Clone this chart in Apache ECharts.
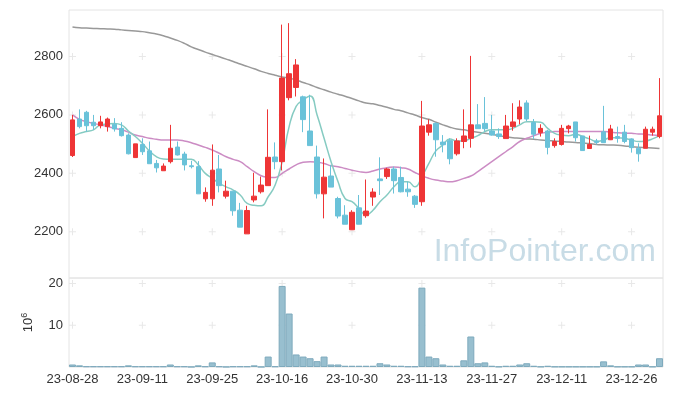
<!DOCTYPE html>
<html><head><meta charset="utf-8">
<script src="https://cdn.jsdelivr.net/npm/echarts@6/dist/echarts.min.js"></script>
<style>html,body{margin:0;padding:0;background:#fff}#c{width:673px;height:396px}</style>
</head><body><div id="c"></div>
<script>
const dates = ['23-08-28','23-08-29','23-08-30','23-08-31','23-09-01','23-09-04','23-09-05','23-09-06','23-09-07','23-09-08',
'23-09-11','23-09-12','23-09-13','23-09-14','23-09-15','23-09-18','23-09-19','23-09-20','23-09-21','23-09-22',
'23-09-25','23-09-26','23-09-27','23-10-04','23-10-05','23-10-06','23-10-10','23-10-11','23-10-12','23-10-13',
'23-10-16','23-10-17','23-10-18','23-10-19','23-10-20','23-10-23','23-10-24','23-10-25','23-10-26','23-10-27',
'23-10-30','23-10-31','23-11-01','23-11-02','23-11-03','23-11-06','23-11-07','23-11-08','23-11-09','23-11-10',
'23-11-13','23-11-14','23-11-15','23-11-16','23-11-17','23-11-20','23-11-21','23-11-22','23-11-23','23-11-24',
'23-11-27','23-11-28','23-11-29','23-11-30','23-12-01','23-12-04','23-12-05','23-12-06','23-12-07','23-12-08',
'23-12-11','23-12-12','23-12-13','23-12-14','23-12-15','23-12-18','23-12-19','23-12-20','23-12-21','23-12-22',
'23-12-26','23-12-27','23-12-28','24-01-02','24-01-03'];
const opens = [2461,2586,2609,2575,2563,2560,2568,2554,2531,2454,2499,2477,2434,2409,2440,2490,2466,2426,2423,2313,
2313,2415,2322,2339,2274,2193,2309,2337,2358,2456,2440,2659,2694,2662,2545,2456,2330,2391,2314,2257,
2207,2282,2255,2319,2381,2389,2415,2386,2346,2322,2303,2541,2571,2507,2512,2467,2509,2520,2566,2571,
2545,2535,2519,2560,2586,2641,2574,2539,2545,2495,2499,2553,2576,2528,2485,2511,2542,2515,2526,2541,
2518,2486,2486,2541,2526];
const closes = [2583,2560,2563,2563,2576,2586,2552,2529,2467,2501,2474,2433,2419,2425,2486,2463,2429,2423,2330,2335,
2411,2358,2339,2272,2216,2273,2322,2360,2455,2440,2726,2741,2771,2584,2495,2330,2387,2353,2254,2226,
2267,2226,2271,2336,2375,2415,2375,2337,2337,2294,2562,2566,2515,2498,2450,2511,2528,2566,2553,2553,
2531,2526,2562,2576,2627,2586,2534,2554,2489,2509,2554,2562,2522,2478,2499,2506,2505,2552,2520,2509,
2488,2467,2551,2551,2597];
const lows = [2456,2554,2543,2549,2554,2543,2543,2526,2465,2454,2463,2433,2403,2409,2434,2461,2410,2417,2330,2303,
2289,2335,2314,2255,2216,2193,2301,2331,2358,2414,2410,2650,2663,2541,2495,2314,2246,2353,2246,2226,
2207,2226,2248,2289,2326,2381,2331,2335,2320,2282,2289,2529,2457,2472,2431,2461,2486,2488,2553,2543,
2529,2518,2519,2546,2568,2579,2518,2526,2465,2488,2495,2537,2509,2478,2485,2499,2505,2514,2505,2503,
2471,2440,2486,2529,2520];
const highs = [2600,2619,2614,2600,2597,2591,2589,2575,2537,2501,2520,2509,2446,2434,2566,2509,2474,2443,2442,2352,
2499,2463,2375,2339,2299,2289,2402,2389,2619,2506,2909,2914,2791,2666,2669,2495,2451,2429,2320,2291,
2274,2326,2379,2349,2455,2419,2423,2423,2371,2326,2648,2585,2575,2531,2520,2520,2619,2802,2637,2661,
2600,2554,2600,2640,2650,2650,2586,2568,2549,2520,2566,2566,2576,2528,2529,2518,2631,2566,2560,2566,
2520,2503,2560,2560,2726];
const ma5 = [2526,2537,2543,2549,2566,2569,2571,2566,2545,2526,2503,2477,2457,2449,2448,2448,2448,2448,2429,2400,
2383,2366,2354,2343,2326,2297,2291,2289,2320,2360,2440,2560,2629,2651,2665,2600,2520,2440,2371,2314,
2303,2280,2257,2274,2303,2326,2354,2371,2371,2354,2389,2434,2477,2497,2518,2511,2511,2520,2529,2543,
2549,2549,2549,2554,2566,2577,2577,2575,2554,2537,2531,2529,2534,2526,2518,2509,2514,2522,2522,2520,
2514,2509,2511,2518,2529];
const ma20 = [2600,2585,2577,2571,2566,2560,2554,2549,2541,2531,2526,2520,2517,2514,2514,2514,2511,2505,2497,2489,
2480,2469,2457,2448,2440,2423,2406,2392,2387,2386,2400,2415,2429,2438,2440,2438,2434,2426,2423,2417,
2411,2406,2403,2408,2415,2419,2422,2419,2415,2403,2392,2383,2377,2374,2371,2375,2383,2391,2406,2423,
2440,2457,2474,2491,2509,2520,2529,2537,2541,2543,2543,2543,2543,2543,2543,2543,2543,2541,2539,2538,
2537,2535,2534,2531,2529];
const ma120 = [2901,2898,2897,2896,2895,2894,2893,2891,2889,2887,2885,2881,2877,2871,2863,2855,2845,2833,2824,2815,
2807,2799,2791,2783,2774,2766,2758,2749,2742,2736,2730,2726,2720,2711,2703,2694,2686,2678,2671,2664,
2656,2648,2641,2638,2632,2626,2619,2614,2607,2600,2591,2585,2575,2566,2558,2552,2549,2544,2541,2537,
2534,2529,2525,2522,2520,2518,2517,2514,2512,2511,2509,2507,2506,2504,2502,2499,2498,2497,2496,2494,
2491,2489,2488,2487,2485];
const volumes = [0.6,0.4,0.15,0.15,0.15,0.15,0.15,0.15,0.4,0.15,0.15,0.15,0.15,0.15,0.6,0.15,0.15,0.03,0.4,0.15,
1.1,0.15,0.03,0.15,0.15,0.15,0.4,0.03,2.5,0.15,19.4,12.8,3.0,2.5,2.1,1.4,2.5,0.6,0.6,0.3,
0.3,0.3,0.3,0.3,0.9,0.6,0.3,0.3,0.15,0.15,19.0,2.5,2.1,0.6,0.3,0.3,1.6,7.3,0.9,1.1,
0.3,0.1,0.3,0.3,0.6,0.9,0.3,0.1,0.3,0.1,0.1,0.1,0.1,0.1,0.1,0.1,1.35,0.4,0.1,0.1,
0.1,0.6,0.6,0.1,2.1];
const priceTicks = [2200,2400,2600,2800];
const volTicks = [10,20];
const labelEvery = 10;

const FONT = 'Liberation Sans';
const candles = dates.map((d,i)=>[opens[i],closes[i],lows[i],highs[i]]);
const xMarks = dates.filter((d,i)=>i%labelEvery===0);
const crossesP = [], crossesV = [];
xMarks.forEach(d=>{priceTicks.forEach(v=>crossesP.push([d,v])); volTicks.forEach(v=>crossesV.push([d,v]));});
const plus = 'path://M3,0h1v7h-1zM0,3h7v1h-7z';
const plain = v => String(v);

const chart = echarts.init(document.getElementById('c'), null, {renderer:'canvas'});
chart.setOption({
  animation:false,
  backgroundColor:'#fff',
  textStyle:{fontFamily:FONT},
  graphic:[{type:'text', right:17, top:236, z:0, silent:true,
    style:{text:'InfoPointer.com', fontSize:32, fontFamily:FONT, fill:'#c8dce6'}}],
  grid:[
    {left:69,right:10,top:10,height:268,show:true,borderColor:'#e4e4e4',borderWidth:1},
    {left:69,right:10,top:278,height:89,show:true,borderColor:'#e4e4e4',borderWidth:1}
  ],
  xAxis:[
    {type:'category',data:dates,gridIndex:0,boundaryGap:true,axisLine:{show:false},axisTick:{show:false},axisLabel:{show:false},splitLine:{show:false}},
    {type:'category',data:dates,gridIndex:1,boundaryGap:true,axisLine:{show:false},axisTick:{show:false},
      axisLabel:{interval:labelEvery-1,color:'#333',fontSize:13,margin:6,fontFamily:FONT},splitLine:{show:false}}
  ],
  yAxis:[
    {type:'value',gridIndex:0,min:2042,max:2959,axisLine:{show:false},axisTick:{show:false},splitLine:{show:false},
      axisLabel:{customValues:priceTicks,formatter:plain,color:'#333',fontSize:13,margin:6,fontFamily:FONT}},
    {type:'value',gridIndex:1,min:0,max:21.3,axisLine:{show:false},axisTick:{show:false},splitLine:{show:false},
      axisLabel:{customValues:volTicks,formatter:plain,color:'#333',fontSize:13,margin:6,fontFamily:FONT},
      name:'{a|10}{b|6}',nameLocation:'middle',nameRotate:90,nameGap:33,
      nameTextStyle:{rich:{a:{fontSize:13,color:'#333',fontFamily:FONT},b:{fontSize:9,color:'#333',fontFamily:FONT,padding:[0,0,7,0]}}}}
  ],
  series:[
    {type:'scatter',xAxisIndex:0,yAxisIndex:0,data:crossesP,symbol:plus,symbolSize:7,itemStyle:{color:'#e2e2e2'},silent:true,z:1},
    {type:'scatter',xAxisIndex:1,yAxisIndex:1,data:crossesV,symbol:plus,symbolSize:7,itemStyle:{color:'#e2e2e2'},silent:true,z:1},
    {type:'line',name:'MA120',data:ma120,xAxisIndex:0,yAxisIndex:0,smooth:true,symbol:'none',lineStyle:{color:'#999999',width:1.5},z:2},
    {type:'line',name:'MA20',data:ma20,xAxisIndex:0,yAxisIndex:0,smooth:true,symbol:'none',lineStyle:{color:'#cc8cc4',width:1.5},z:2},
    {type:'line',name:'MA5',data:ma5,xAxisIndex:0,yAxisIndex:0,smooth:true,symbol:'none',lineStyle:{color:'#86cbc2',width:1.5},z:2},
    {type:'candlestick',data:candles,xAxisIndex:0,yAxisIndex:0,barWidth:5,z:3,
      itemStyle:{color:'#ee3536',color0:'#6ac2d9',borderColor:'#ee3536',borderColor0:'#6ac2d9',borderWidth:1}},
    {type:'bar',data:volumes,xAxisIndex:1,yAxisIndex:1,barCategoryGap:'0%',z:3,
      itemStyle:{color:'#98bfcf',borderColor:'#7eaabd',borderWidth:1}}
  ]
});
</script></body></html>
